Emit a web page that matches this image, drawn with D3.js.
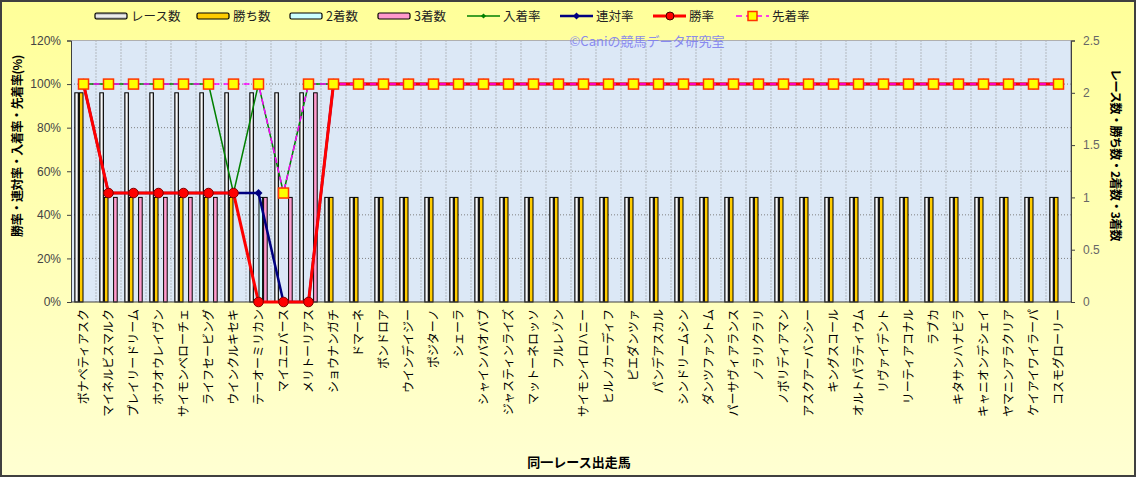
<!DOCTYPE html>
<html><head><meta charset="utf-8">
<script src="https://cdn.jsdelivr.net/npm/d3@7"></script>
<style>html,body{margin:0;padding:0;background:#fff;}svg{display:block;}</style>
</head><body>
<svg id="c" width="1136" height="477"></svg>
<script>
const horses = ["ボナペティアスク","マイネルビスマルク","プレイリードリーム","ホウオウレイヴン","サイモンベローチェ","ライフセービング","ウインクルキセキ","テーオーミリカン","マイユニバース","メリトーリアス","ショウナンガチ","ドマーネ","ボンドロア","ウインデイジー","ポジターノ","シェーラ","シャインバオバブ","ジャスティンライズ","マットーネロッソ","フルレゾン","サイモンイロハニー","ヒルノカーディフ","ピエダンツァ","パンデアスカル","シンドリームシン","ダンツファントム","パーサヴィアランス","ノラリクラリ","ノボリディアマン","アスクアーバンシー","キングスコール","オルトパラティウム","リヴァイデント","リーティアコナル","ラブカ","キタサンハナビラ","キャニオンデシェイ","ヤマニンアラクリア","ケイアイワイラーパ","コスモグローリー"];
const raceCounts = [2,2,2,2,2,2,2,2,2,2,1,1,1,1,1,1,1,1,1,1,1,1,1,1,1,1,1,1,1,1,1,1,1,1,1,1,1,1,1,1];
const wins       = [2,1,1,1,1,1,1,0,0,0,1,1,1,1,1,1,1,1,1,1,1,1,1,1,1,1,1,1,1,1,1,1,1,1,1,1,1,1,1,1];
const seconds    = [0,0,0,0,0,0,0,1,0,0,0,0,0,0,0,0,0,0,0,0,0,0,0,0,0,0,0,0,0,0,0,0,0,0,0,0,0,0,0,0];
const thirds     = [0,1,1,1,1,1,0,1,1,2,0,0,0,0,0,0,0,0,0,0,0,0,0,0,0,0,0,0,0,0,0,0,0,0,0,0,0,0,0,0];
const nyuchakuRate = [100,100,100,100,100,100,50,100,50,100,100,100,100,100,100,100,100,100,100,100,100,100,100,100,100,100,100,100,100,100,100,100,100,100,100,100,100,100,100,100];
const rentaiRate   = [100,50,50,50,50,50,50,50,0,0,100,100,100,100,100,100,100,100,100,100,100,100,100,100,100,100,100,100,100,100,100,100,100,100,100,100,100,100,100,100];
const winRate      = [100,50,50,50,50,50,50,0,0,0,100,100,100,100,100,100,100,100,100,100,100,100,100,100,100,100,100,100,100,100,100,100,100,100,100,100,100,100,100,100];
const senchakuRate = [100,100,100,100,100,100,100,100,50,100,100,100,100,100,100,100,100,100,100,100,100,100,100,100,100,100,100,100,100,100,100,100,100,100,100,100,100,100,100,100];
const leftTicks = [0,20,40,60,80,100,120];
const rightTicks = [0,0.5,1,1.5,2,2.5];

const svg = d3.select("#c");
const W = 1136, H = 477;
const L = 71, R = 1071, T = 40.5, B = 302;
const defs = svg.append("defs");
const bg = defs.append("linearGradient").attr("id","bg").attr("x1",0).attr("y1",0).attr("x2",0).attr("y2",1);
bg.append("stop").attr("offset","0%").attr("stop-color","#FFFF99");
bg.append("stop").attr("offset","100%").attr("stop-color","#FFFFD2");
const wg = defs.append("linearGradient").attr("id","wg").attr("x1",0).attr("y1",0).attr("x2",1).attr("y2",0);
wg.append("stop").attr("offset","0%").attr("stop-color","#9a9a9a");
wg.append("stop").attr("offset","50%").attr("stop-color","#ffffff");
wg.append("stop").attr("offset","100%").attr("stop-color","#9a9a9a");
const wgH = defs.append("linearGradient").attr("id","wgH").attr("x1",0).attr("y1",0).attr("x2",0).attr("y2",1);
wgH.append("stop").attr("offset","0%").attr("stop-color","#8a8a8a");
wgH.append("stop").attr("offset","50%").attr("stop-color","#ffffff");
wgH.append("stop").attr("offset","100%").attr("stop-color","#8a8a8a");

svg.append("rect").attr("x",1).attr("y",1).attr("width",W-2).attr("height",H-2)
  .attr("fill","url(#bg)").attr("stroke","#404040").attr("stroke-width",2);

// plot area
svg.append("rect").attr("x",L).attr("y",T).attr("width",R-L).attr("height",B-T).attr("fill","#DCE8F6");

const x0 = d3.scaleBand().domain(horses).range([L,R]).paddingInner(0.264).paddingOuter(0.132);
const keys = ["race","win","second","third"];
const x1 = d3.scaleBand().domain(keys).range([0,x0.bandwidth()]);
const yL = d3.scaleLinear().domain([0,120]).range([B,T]);
const yR = d3.scaleLinear().domain([0,2.5]).range([B,T]);
const step = x0.step();

// gridlines
const g = svg.append("g");
g.selectAll(".hg").data(leftTicks.filter(d=>d>0 && d<120)).join("line")
  .attr("x1",L).attr("x2",R).attr("y1",d=>yL(d)).attr("y2",d=>yL(d))
  .attr("stroke","#808080").attr("stroke-width",1).attr("stroke-dasharray","1,2");
g.selectAll(".vg").data(horses.slice(1)).join("line")
  .attr("x1",d=>x0(d)-step*0.132).attr("x2",d=>x0(d)-step*0.132).attr("y1",T).attr("y2",B)
  .attr("stroke","#8a8a8a").attr("stroke-width",1).attr("stroke-dasharray","1,2");

// bars
const series = {race:raceCounts, win:wins, second:seconds, third:thirds};
const fills = {race:"url(#wg)", win:"#FFCC00", second:"#CCFFFF", third:"#FF99CC"};
const barG = svg.append("g");
horses.forEach((h,i)=>{
  keys.forEach(k=>{
    const v = series[k][i];
    if (v<=0) return;
    barG.append("rect").attr("x",x0(h)+x1(k)+0.5).attr("y",yR(v))
      .attr("width",x1.bandwidth()-1).attr("height",B-yR(v))
      .attr("fill",fills[k]).attr("stroke","#000").attr("stroke-width",1);
  });
});

// axes
svg.append("line").attr("x1",L).attr("x2",R).attr("y1",T).attr("y2",T).attr("stroke","#b0b0b0");
svg.append("line").attr("x1",R).attr("x2",R).attr("y1",T).attr("y2",B).attr("stroke","#808080");
const axL = d3.axisLeft(yL).tickValues(leftTicks).tickFormat(d=>d+"%").tickSize(4).tickPadding(6);
const gL = svg.append("g").attr("transform",`translate(${L},0)`).call(axL);
gL.select(".domain").attr("stroke","#404040");
gL.selectAll("line").attr("stroke","#404040");
gL.selectAll("text").attr("font-family","Liberation Sans, Arial, sans-serif").attr("font-size",12).attr("fill","#444");
const axR = d3.axisRight(yR).tickValues(rightTicks).tickFormat(d=>d).tickSize(4).tickPadding(8);
const gR = svg.append("g").attr("transform",`translate(${R},0)`).call(axR);
gR.select(".domain").attr("stroke","#404040");
gR.selectAll("line").attr("stroke","#404040");
gR.selectAll("text").attr("font-family","Liberation Sans, Arial, sans-serif").attr("font-size",12).attr("fill","#666");
svg.append("line").attr("x1",L).attr("x2",R).attr("y1",B).attr("y2",B).attr("stroke","#404040");

// lines
const cx = h => x0(h)+x0.bandwidth()/2;
const mk = arr => d3.line().x((d,i)=>cx(horses[i])).y(d=>yL(d))(arr);
const lg = svg.append("g");
lg.append("path").attr("d",mk(nyuchakuRate)).attr("fill","none").attr("stroke","#008000").attr("stroke-width",1.5);
lg.append("path").attr("d",mk(rentaiRate)).attr("fill","none").attr("stroke","#000080").attr("stroke-width",2.5);
lg.append("path").attr("d",mk(winRate)).attr("fill","none").attr("stroke","#FF0000").attr("stroke-width",3);
lg.append("path").attr("d",mk(senchakuRate)).attr("fill","none").attr("stroke","#FF00FF").attr("stroke-width",1.5).attr("stroke-dasharray","6,4");
const diamond = (s)=>`M0,${-s}L${s},0L0,${s}L${-s},0Z`;
lg.selectAll(".gm").data(nyuchakuRate).join("path").attr("d",diamond(2.6))
  .attr("transform",(d,i)=>`translate(${cx(horses[i])},${yL(d)})`).attr("fill","#008000");
lg.selectAll(".nm").data(rentaiRate).join("path").attr("d",diamond(4))
  .attr("transform",(d,i)=>`translate(${cx(horses[i])},${yL(d)})`).attr("fill","#000080");
lg.selectAll(".rm").data(winRate).join("circle").attr("r",4.8)
  .attr("cx",(d,i)=>cx(horses[i])).attr("cy",d=>yL(d)).attr("fill","#FF0000").attr("stroke","#800000").attr("stroke-width",1);
lg.selectAll(".sm").data(senchakuRate).join("rect").attr("width",10).attr("height",10)
  .attr("x",(d,i)=>cx(horses[i])-5).attr("y",d=>yL(d)-5).attr("fill","#FFFF00").attr("stroke","#FF3300").attr("stroke-width",1.5);

// x labels
svg.append("g").selectAll("text").data(horses).join("text")
  .attr("transform",h=>`translate(${cx(h)+4.5},309) rotate(-90)`)
  .attr("text-anchor","end").attr("font-family","Noto Sans CJK JP").attr("font-size",12).attr("fill","#000")
  .text(d=>d);

// titles
svg.append("text").attr("transform","translate(22,146) rotate(-90)").attr("text-anchor","middle")
  .attr("font-family","Noto Sans CJK JP").attr("font-weight","bold").attr("font-size",12).attr("letter-spacing",-0.4).attr("fill","#000")
  .text("勝率・連対率・入着率・先着率(%)");
svg.append("text").attr("transform","translate(1111,155) rotate(90)").attr("text-anchor","middle")
  .attr("font-family","Noto Sans CJK JP").attr("font-weight","bold").attr("font-size",12).attr("letter-spacing",-0.6).attr("fill","#000")
  .text("レース数・勝ち数・2着数・3着数");
svg.append("text").attr("x",579).attr("y",467).attr("text-anchor","middle")
  .attr("font-family","Noto Sans CJK JP").attr("font-weight","bold").attr("font-size",13).attr("fill","#000")
  .text("同一レース出走馬");
svg.append("text").attr("x",647).attr("y",46).attr("text-anchor","middle")
  .attr("font-family","Noto Sans CJK JP").attr("font-size",13).attr("fill","#8080f0").attr("opacity",0.9)
  .text("©Caniの競馬データ研究室");

// legend
const legend = [
  {t:"レース数", type:"bar", fill:"url(#wgH)", x:95},
  {t:"勝ち数", type:"bar", fill:"#FFCC00", x:197},
  {t:"2着数", type:"bar", fill:"#CCFFFF", x:290},
  {t:"3着数", type:"bar", fill:"#FF99CC", x:378},
  {t:"入着率", type:"line", color:"#008000", w:1.5, m:"gd", x:467},
  {t:"連対率", type:"line", color:"#000080", w:2.5, m:"nd", x:560},
  {t:"勝率", type:"line", color:"#FF0000", w:3, m:"c", x:653},
  {t:"先着率", type:"line", color:"#FF00FF", w:1.5, m:"s", x:736}
];
const lgd = svg.append("g");
const ly = 16;
legend.forEach(it=>{
  if (it.type==="bar") {
    lgd.append("rect").attr("x",it.x).attr("y",ly-3).attr("width",32).attr("height",6).attr("rx",1.5)
      .attr("fill",it.fill).attr("stroke","#000").attr("stroke-width",1.2);
  } else {
    if (it.m==="s") {
      lgd.append("line").attr("x1",it.x).attr("x2",it.x+33).attr("y1",ly).attr("y2",ly)
        .attr("stroke",it.color).attr("stroke-width",it.w).attr("stroke-dasharray","6,4");
      lgd.append("rect").attr("x",it.x+12).attr("y",ly-4.5).attr("width",9).attr("height",9)
        .attr("fill","#FFFF00").attr("stroke","#FF3300").attr("stroke-width",1.5);
    } else {
      lgd.append("line").attr("x1",it.x).attr("x2",it.x+33).attr("y1",ly).attr("y2",ly)
        .attr("stroke",it.color).attr("stroke-width",it.w);
      if (it.m==="c") lgd.append("circle").attr("cx",it.x+17).attr("cy",ly).attr("r",4).attr("fill","#FF0000").attr("stroke","#400000");
      else lgd.append("path").attr("d",diamond(it.m==="gd"?2.6:3.5)).attr("transform",`translate(${it.x+16.5},${ly})`).attr("fill",it.color);
    }
  }
  lgd.append("text").attr("x",it.x+36).attr("y",ly+4.5).attr("font-family","Noto Sans CJK JP").attr("font-size",12.5).attr("fill","#222").text(it.t);
});
</script>
</body></html>
